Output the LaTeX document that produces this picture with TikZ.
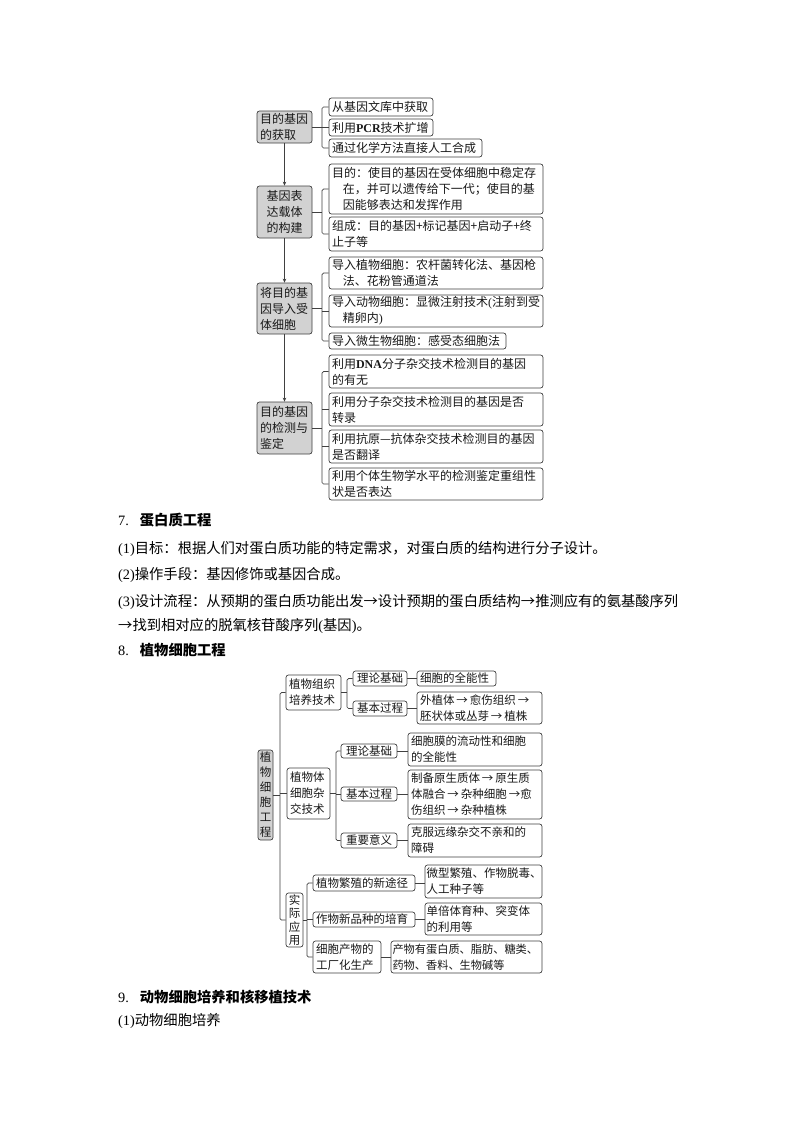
\documentclass[tikz,border=0pt]{standalone}
\usepackage{fontspec}
\setmainfont{Noto Sans CJK SC}
\newfontfamily\lat{Liberation Serif}
\usetikzlibrary{arrows.meta}
\newcommand\bxpad{3}
\newcommand\bx[7][]{%
  \pgfmathsetmacro\bxw{#5-#3}%
  \pgfmathsetmacro\bxh{#6-#4}%
  \pgfmathsetmacro\bxt{#5-#3-2*\bxpad}%
  \node[box,inner xsep=\bxpad pt,minimum width=\bxw pt,minimum height=\bxh pt,text width=\bxt pt,#1] (#2) at ({(#3+#5)/2},{(#4+#6)/2}) {#7};}
\newcommand\vbx[7][]{%
  \pgfmathsetmacro\bxw{#5-#3}%
  \pgfmathsetmacro\bxh{#6-#4}%
  \node[box,inner xsep=0pt,minimum width=\bxw pt,minimum height=\bxh pt,text width=\bxw pt,align=center,#1] (#2) at ({(#3+#5)/2},{(#4+#6)/2}) {#7};}
\tikzset{
  box/.style={draw=black!75, line width=0.7pt, rounded corners=2.5pt, inner ysep=0pt, align=left, text=black!90, font=\fontsize{12}{16}\selectfont},
  gbox/.style={fill=gray!35},
  dtwo/.style={font=\fontsize{11.5}{16}\selectfont},
  ln/.style={draw=black!75, line width=0.7pt, rounded corners=1.5pt},
  arr/.style={draw=black!75, line width=0.7pt, -{Stealth[length=4pt,width=3.5pt]}},
  body/.style={anchor=west, inner sep=0pt, font=\fontsize{14.3}{16}\selectfont, text=black},
}
\begin{document}
\begin{tikzpicture}[x=1pt,y=-1pt]
\fill[white] (0,0) rectangle (800,1132);
\useasboundingbox (0,0) rectangle (800,1132);

% ---------- diagram 1 ----------
\bx[gbox]{a1}{257}{111}{312}{143}{目的基因\\的获取}
\bx[gbox,align=center]{a2}{257}{186}{312}{238}{基因表\\达载体\\的构建}
\bx[gbox]{a3}{257}{283}{312}{334}{将目的基\\因导入受\\体细胞}
\bx[gbox]{a4}{257}{402}{312}{454}{目的基因\\的检测与\\鉴定}

\bx{b1}{329}{98}{433}{116}{从基因文库中获取}
\bx{b2}{329}{119}{433}{136}{利用{\lat\bfseries PCR}技术扩增}
\bx{b3}{329}{139}{482}{157}{通过化学方法直接人工合成}
\bx{c1}{329}{164}{543}{214}{目的：使目的基因在受体细胞中稳定存\\\hspace*{0.9em}在，并可以遗传给下一代；使目的基\\\hspace*{0.9em}因能够表达和发挥作用}
\bx{c2}{329}{217}{543}{251}{组成：目的基因+标记基因+启动子+终\\止子等}
\bx{d1}{329}{257}{543}{289}{导入植物细胞：农杆菌转化法、基因枪\\\hspace*{0.9em}法、花粉管通道法}
\bx{d2}{329}{295}{543}{327}{导入动物细胞：显微注射技术{\lat (}注射到受\\\hspace*{0.9em}精卵内{\lat )}}
\bx{d3}{329}{333}{506}{349}{导入微生物细胞：感受态细胞法}
\bx{e1}{329}{355}{543}{388}{利用{\lat\bfseries DNA}分子杂交技术检测目的基因\\的有无}
\bx{e2}{329}{393}{543}{426}{利用分子杂交技术检测目的基因是否\\转录}
\bx{e3}{329}{430}{543}{463}{利用抗原—抗体杂交技术检测目的基因\\是否翻译}
\bx{e4}{329}{468}{543}{500}{利用个体生物学水平的检测鉴定重组性\\状是否表达}

\coordinate (K) at (322,0);
\draw[arr] (a1.south) -- (a2.north);
\draw[arr] (a2.south) -- (a3.north);
\draw[arr] (a3.south) -- (a4.north);

\draw[ln] (a1.east) -- (a1.east -| K);
\draw[ln] (b1.west) -- (b1.west -| K) |- (b3.west);
\draw[ln] (b2.west) -- (b2.west -| K);

\draw[ln] (a2.east) -- (a2.east -| K);
\draw[ln] (c1.west) -- (c1.west -| K) |- (c2.west);

\draw[ln] (a3.east) -- (a3.east -| K);
\draw[ln] (d1.west) -- (d1.west -| K) |- (d3.west);
\draw[ln] (d2.west) -- (d2.west -| K);

\draw[ln] (a4.east) -- (a4.east -| K);
\draw[ln] (e1.west) -- (e1.west -| K) |- (e4.west);
\draw[ln] (e2.west) -- (e2.west -| K);
\draw[ln] (e3.west) -- (e3.west -| K);

% ---------- body text ----------
\node[body] (h7) at (118,520) {{\lat 7.}\hspace{11pt}{\bfseries 蛋白质工程}};
\node[body] (l1) at (118,549) {{\lat (1)}目标：根据人们对蛋白质功能的特定需求，对蛋白质的结构进行分子设计。};
\node[body] (l2) at (118,575) {{\lat (2)}操作手段：基因修饰或基因合成。};
\node[body] (l3) at (118,602) {{\lat (3)}设计流程：从预期的蛋白质功能出发→设计预期的蛋白质结构→推测应有的氨基酸序列};
\node[body] (l4) at (118,626) {→找到相对应的脱氧核苷酸序列{\lat (}基因{\lat )}。};
\node[body] (h8) at (118,650) {{\lat 8.}\hspace{11pt}{\bfseries 植物细胞工程}};
\node[body] (h9) at (118,997) {{\lat 9.}\hspace{11pt}{\bfseries 动物细胞培养和核移植技术}};
\node[body] (l5) at (118,1021) {{\lat (1)}动物细胞培养};

% ---------- diagram 2 ----------
\vbx[gbox,dtwo,font=\fontsize{11.5}{15}\selectfont]{r}{258}{750}{273}{840}{植\\物\\细\\胞\\工\\程}
\bx[dtwo]{p1}{286}{675}{341}{710}{植物组织\\培养技术}
\bx[dtwo]{p2}{287}{768}{330}{819}{植物体\\细胞杂\\交技术}
\vbx[dtwo,font=\fontsize{11.5}{13.5}\selectfont]{p3}{286}{893}{303}{947}{实\\际\\应\\用}

\bx[dtwo,align=center]{q1}{353}{671}{407}{686}{理论基础}
\bx[dtwo,align=center]{q2}{353}{701}{407}{716}{基本过程}
\bx[dtwo]{s1}{417}{671}{496}{686}{细胞的全能性}
\bx[dtwo]{s2}{417}{692}{542}{724}{外植体\,→\,愈伤组织\,→\\胚状体或丛芽\,→\,植株}

\bx[dtwo,align=center]{q3}{341}{744}{397}{758}{理论基础}
\bx[dtwo,align=center]{q4}{341}{787}{397}{801}{基本过程}
\bx[dtwo,align=center]{q5}{341}{833}{397}{848}{重要意义}
\bx[dtwo]{t1}{408}{733}{542}{766}{细胞膜的流动性和细胞\\的全能性}
\bx[dtwo]{t2}{408}{770}{542}{819}{制备原生质体\,→\,原生质\\体融合\,→\,杂种细胞\,→愈\\伤组织\,→\,杂种植株}
\bx[dtwo]{t3}{408}{824}{542}{857}{克服远缘杂交不亲和的\\障碍}

\bx[dtwo]{u1}{313}{875}{415}{891}{植物繁殖的新途径}
\bx[dtwo]{u2}{313}{912}{415}{927}{作物新品种的培育}
\bx[dtwo]{u3}{313}{941}{381}{973}{细胞产物的\\工厂化生产}
\renewcommand\bxpad{1.5}
\bx[dtwo]{v1}{425}{865}{542}{898}{微型繁殖、作物脱毒、\\人工种子等}
\bx[dtwo]{v2}{425}{903}{542}{935}{单倍体育种、突变体\\的利用等}
\bx[dtwo,font=\fontsize{11.2}{16}\selectfont]{v3}{391}{941}{542}{973}{产物有蛋白质、脂肪、糖类、\\药物、香料、生物碱等}
\renewcommand\bxpad{3}

\coordinate (T) at (280,0);
\coordinate (B1) at (347,0);
\coordinate (B2) at (336,0);
\coordinate (B3) at (307,0);

\draw[ln] (r.east) -- (r.east -| T);
\draw[ln] (p1.west) -- (p1.west -| T) |- (p3.west);
\draw[ln] (p2.west) -- (p2.west -| T);

\draw[ln] (p1.east) -- (p1.east -| B1);
\draw[ln] (q1.west) -- (q1.west -| B1) |- (q2.west);
\draw[ln] (q1.east) -- (q1.east -| s1.west);
\draw[ln] (q2.east) -- (q2.east -| s2.west);

\draw[ln] (p2.east) -- (p2.east -| B2);
\draw[ln] (q3.west) -- (q3.west -| B2) |- (q5.west);
\draw[ln] (q4.west) -- (q4.west -| B2);
\draw[ln] (q3.east) -- (q3.east -| t1.west);
\draw[ln] (q4.east) -- (q4.east -| t2.west);
\draw[ln] (q5.east) -- (q5.east -| t3.west);

\draw[ln] (p3.east) -- (p3.east -| B3);
\draw[ln] (u1.west) -- (u1.west -| B3) |- (u3.west);
\draw[ln] (u2.west) -- (u2.west -| B3);
\draw[ln] (u1.east) -- (u1.east -| v1.west);
\draw[ln] (u2.east) -- (u2.east -| v2.west);
\draw[ln] (u3.east) -- (u3.east -| v3.west);
\end{tikzpicture}
\end{document}
